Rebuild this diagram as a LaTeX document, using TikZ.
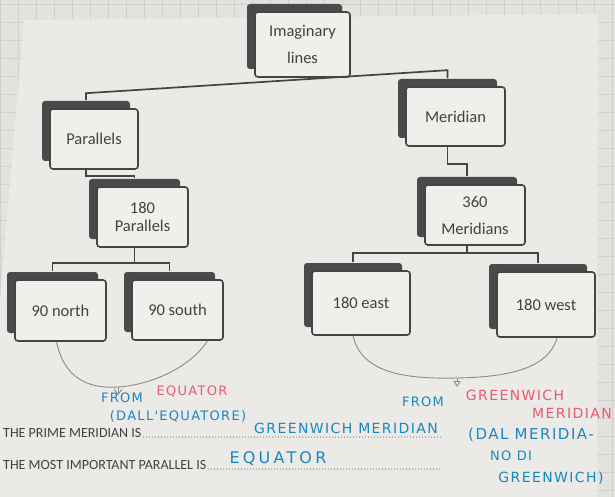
\documentclass[tikz,border=0pt]{standalone}
\usepackage{fontspec}
\setmainfont{Carlito}
\newfontfamily\handfont[LetterSpace=10]{DejaVu Sans}
\newfontfamily\handwide[LetterSpace=20]{DejaVu Sans}
\usetikzlibrary{shadows,arrows.meta}

\definecolor{paper}{RGB}{228,226,222}
\definecolor{sheet}{RGB}{236,234,230}
\definecolor{gridline}{RGB}{210,208,204}
\definecolor{boxline}{RGB}{68,68,68}
\definecolor{boxback}{RGB}{74,74,74}
\definecolor{boxfill}{RGB}{241,239,236}
\definecolor{ink}{RGB}{66,66,66}
\definecolor{pencilgray}{RGB}{140,138,135}
\definecolor{penblue}{RGB}{22,136,196}
\definecolor{penpink}{RGB}{228,92,112}

\tikzset{
  card/.style={draw=boxline, line width=1.6pt, fill=boxfill, rounded corners=3pt,
    general shadow={fill=boxback, shadow xshift=-8pt, shadow yshift=8pt},
    minimum width=92pt, minimum height=60pt, inner sep=2pt, align=center,
    text=ink, font=\fontsize{16.5}{18}\selectfont},
  back/.style={xshift=-8pt, yshift=8pt},
  link/.style={draw=boxline, line width=1.7pt},
  pencil/.style={draw=pencilgray, line width=0.9pt},
  pen/.style={font=\handfont\fontsize{13}{15}\selectfont, inner sep=0pt},
  printed/.style={font=\fontsize{14}{16}\selectfont, text=ink, inner sep=0pt, anchor=base west},
  dots/.style={draw=ink, line width=1pt, line cap=round, dash pattern=on 0pt off 3pt}
}

\begin{document}
\begin{tikzpicture}[x=1pt, y=-1pt]
\useasboundingbox (0,0) rectangle (615,497);

% Paper and sheet
\fill[paper] (0,0) rectangle (615,497);
\foreach \g in {0,18,...,615} { \draw[gridline] (\g,0) -- (\g,497); }
\foreach \g in {4,22,...,497} { \draw[gridline] (0,\g) -- (615,\g); }
\fill[sheet] (24,20) -- (598,14) -- (597,497) -- (0,497) -- (0,300) -- cycle;

% Boxes
\node[card, minimum width=95pt, minimum height=65pt] (img) at (302.5,44.5) {Imaginary\\[9pt]lines};
\node[card, minimum width=88pt] (par) at (94,139) {Parallels};
\node[card, minimum width=99pt, minimum height=59pt] (mer) at (455.5,116.5) {Meridian};
\node[card, minimum width=91pt] (p180) at (142.5,217) {180\\Parallels};
\node[card, minimum width=100pt] (m360) at (475,215) {360\\[9pt]Meridians};
\node[card, minimum width=91pt, minimum height=61pt] (north) at (60.5,310.5) {90 north};
\node[card, minimum width=91pt] (south) at (177.5,310) {90 south};
\node[card, minimum width=98pt, minimum height=64pt] (east) at (361,303) {180 east};
\node[card, minimum width=98pt, minimum height=65pt] (west) at (546,304.5) {180 west};

% Connectors
\coordinate (busR) at ([back,yshift=8pt]mer.north);
\draw[link] ([back]par.north) -- ++(0,-7) coordinate (busL) -- (busR) -- ([back]mer.north);
\draw[link] ([xshift=-8pt]par.south) -- ++(0,6) -| ([back]p180.north);
\draw[link] ([xshift=-8pt]mer.south) -- ++(0,17) -| ([back]m360.north);
\draw[link] ([xshift=-8pt]p180.south) -- ++(0,15) coordinate (pbus);
\draw[link] ([back]north.north) |- (pbus) -| ([back]south.north);
\draw[link] ([xshift=-8pt]m360.south) -- ++(0,7) coordinate (mbus);
\draw[link] ([back]east.north) |- (mbus) -| ([back]west.north);

% Pencil curves
\coordinate (leftdip) at (118,387);
\coordinate (rightdip) at (457,378);
\draw[pencil] ([xshift=-4pt]north.south) .. controls (64,378) and (88,389) .. (leftdip)
  .. controls (150,385) and (190,368) .. ([xshift=30pt]south.south);
\draw[pencil, -{Straight Barb[length=5pt,width=8pt]}] (leftdip) -- ++(0,8);
\draw[pencil] ([xshift=-8pt]east.south) .. controls (362,375) and (410,379) .. (rightdip)
  .. controls (505,377) and (548,370) .. ([xshift=11pt]west.south);
\draw[pencil, -{Triangle[open,length=6pt,width=7pt]}] (rightdip) -- ++(0,9);

% Printed questions
\coordinate (dotend) at (442,0);
\node[printed] (prime) at (3,437) {THE PRIME MERIDIAN IS};
\node[printed] (parallel) at (3,469) {THE MOST IMPORTANT PARALLEL IS};
\draw[dots] ([xshift=2pt]prime.base east) -- (prime.base east -| dotend);
\draw[dots] ([xshift=2pt]parallel.base east) -- (parallel.base east -| dotend);

% Handwritten notes
\node[pen, text=penblue] (fromL) at (122,398) {FROM};
\node[pen, text=penpink] (equL) at (192,392) {EQUATOR};
\node[pen, text=penblue] (dalL) at (178,416) {(DALL'EQUATORE)};
\node[pen, text=penblue, font=\handfont\fontsize{14}{16}\selectfont] (ansP) at (346,428) {GREENWICH MERIDIAN};
\node[pen, text=penblue, font=\handwide\fontsize{16}{18}\selectfont] (ansE) at (278,459) {EQUATOR};
\node[pen, text=penblue] (fromR) at (423,402) {FROM};
\node[pen, text=penpink, font=\handfont\fontsize{14}{16}\selectfont] (grwR) at (515,395) {GREENWICH};
\node[pen, text=penpink, font=\handfont\fontsize{14}{16}\selectfont] (merR) at (572,413) {MERIDIAN};
\node[pen, text=penblue, font=\handfont\fontsize{15}{17}\selectfont] (dalR) at (531,435) {(DAL MERIDIA-};
\node[pen, text=penblue] (noR) at (511,456) {NO DI};
\node[pen, text=penblue, font=\handfont\fontsize{14}{16}\selectfont] (grw2R) at (551,478) {GREENWICH)};
\end{tikzpicture}
\end{document}
